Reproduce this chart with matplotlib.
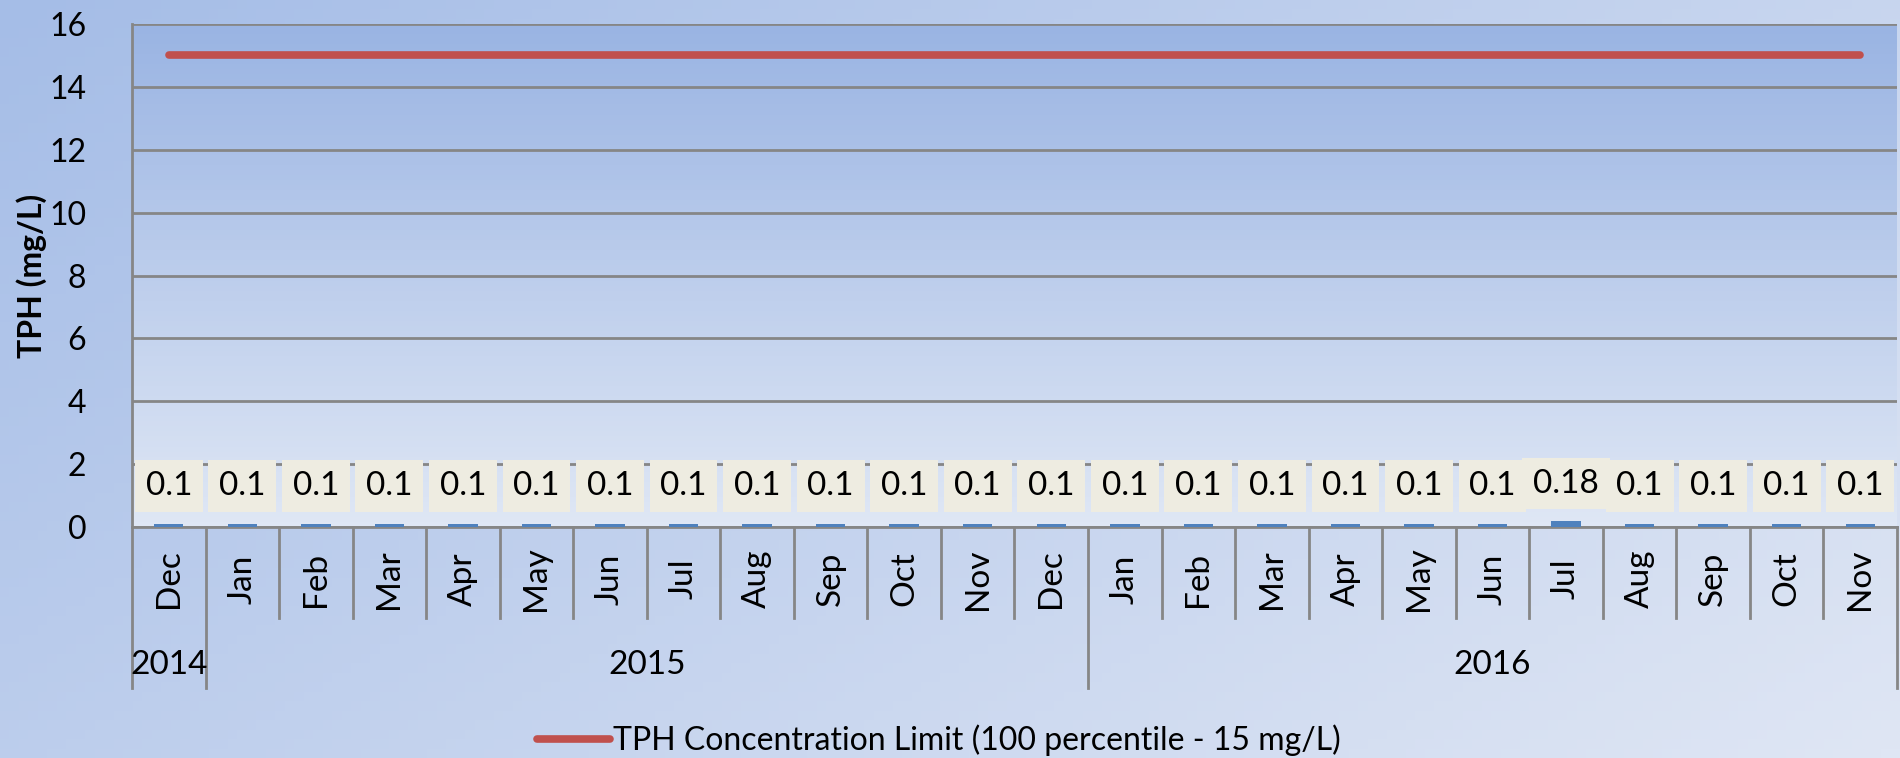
import numpy as np
import matplotlib.pyplot as plt
from matplotlib.colors import LinearSegmentedColormap

plt.rcParams['font.family'] = ['Lato', 'DejaVu Sans']

# data
months = ['Dec', 'Jan', 'Feb', 'Mar', 'Apr', 'May', 'Jun', 'Jul', 'Aug', 'Sep', 'Oct', 'Nov',
          'Dec', 'Jan', 'Feb', 'Mar', 'Apr', 'May', 'Jun', 'Jul', 'Aug', 'Sep', 'Oct', 'Nov']
years = ['2014', '2015', '2016']
year_first = [0, 1, 13]
year_last = [0, 12, 23]
tph = [0.1, 0.1, 0.1, 0.1, 0.1, 0.1, 0.1, 0.1, 0.1, 0.1, 0.1, 0.1,
       0.1, 0.1, 0.1, 0.1, 0.1, 0.1, 0.1, 0.18, 0.1, 0.1, 0.1, 0.1]
tph_labels = ['0.1'] * 19 + ['0.18'] + ['0.1'] * 4
limit = [15, 15, 15, 15, 15, 15, 15, 15, 15, 15, 15, 15,
         15, 15, 15, 15, 15, 15, 15, 15, 15, 15, 15, 15]
limit_name = "TPH Concentration Limit (100 percentile - 15 mg/L)"

W, H = 1900, 758
fig = plt.figure(figsize=(W / 100, H / 100), dpi=100)

# background gradient (diagonal)
bg = fig.add_axes([0, 0, 1, 1], zorder=-10)
gx, gy = np.meshgrid(np.linspace(0, 1, 200), np.linspace(0, 1, 80))
bg_cmap = LinearSegmentedColormap.from_list('bg', ['#a5bde7', '#dfe6f4'])
bg.imshow((gx * 0.6 + gy * 0.4), cmap=bg_cmap, aspect='auto', extent=[0, 1, 0, 1])
bg.axis('off')

left, right, top, bottom = 132, 1897, 24, 527
ax = fig.add_axes([left / W, (H - bottom) / H, (right - left) / W, (bottom - top) / H])
ax.patch.set_alpha(0)

x = np.arange(len(months))
ax.set_xlim(-0.5, len(months) - 0.5)
ax.set_ylim(0, 16)

# plot-area gradient (vertical)
pa_cmap = LinearSegmentedColormap.from_list('pa', ['#9ab4e3', '#dfe7f5'])
ax.imshow(np.linspace(0, 1, 100).reshape(-1, 1), cmap=pa_cmap, aspect='auto',
          extent=[-0.5, len(months) - 0.5, 0, 16], zorder=0)

ax.set_yticks(np.arange(0, 17, 2))
ax.grid(axis='y', color='#868686', linewidth=2, zorder=1)
ax.set_axisbelow(True)
ax.tick_params(axis='both', length=0, labelsize=23, pad=33)
ax.set_xticks([])
for s in ['top', 'right']:
    ax.spines[s].set_visible(False)
for s in ['left', 'bottom']:
    ax.spines[s].set_color('#868686')
    ax.spines[s].set_linewidth(2)

ax.bar(x, tph, width=0.4, color='#4f81bd', zorder=3)
line, = ax.plot(x, limit, color='#c0504d', linewidth=5.5, solid_capstyle='round',
                zorder=4, label=limit_name)

for xi, v, lab in zip(x, tph, tph_labels):
    ax.text(xi, v + 1.2, lab, ha='center', va='center', fontsize=24, zorder=6,
            bbox=dict(boxstyle='square,pad=0.32', fc='#eeece1', ec='none'))

ax.set_ylabel('TPH (mg/L)', fontsize=23, fontweight='bold')
ax.yaxis.set_label_coords(-0.048, 0.5)

# category axis: months and years
tr = ax.get_xaxis_transform()
month_y = -52 / (bottom - top)
sep_y = -91 / (bottom - top)
year_sep_y = -161 / (bottom - top)
year_y = -138 / (bottom - top)
for xi, m in zip(x, months):
    ax.text(xi, month_y, m, rotation=90, ha='center', va='center', fontsize=24,
            transform=tr)
year_bounds = [f - 0.5 for f in year_first] + [year_last[-1] + 0.5]
for k in range(len(months) + 1):
    b = k - 0.5
    y_end = year_sep_y if b in year_bounds else sep_y
    ax.plot([b, b], [0, y_end], color='#868686', linewidth=2, transform=tr,
            clip_on=False, zorder=2)
for yr, f, l in zip(years, year_first, year_last):
    ax.text((f + l) / 2, year_y, yr, ha='center', va='center', fontsize=24,
            transform=tr)

fig.legend(handles=[line], loc='center left', bbox_to_anchor=(508 / W, 1 - 740 / H),
           frameon=False, fontsize=23, handlelength=2.3, handletextpad=0.1)

fig.savefig('out.png', dpi=100)
